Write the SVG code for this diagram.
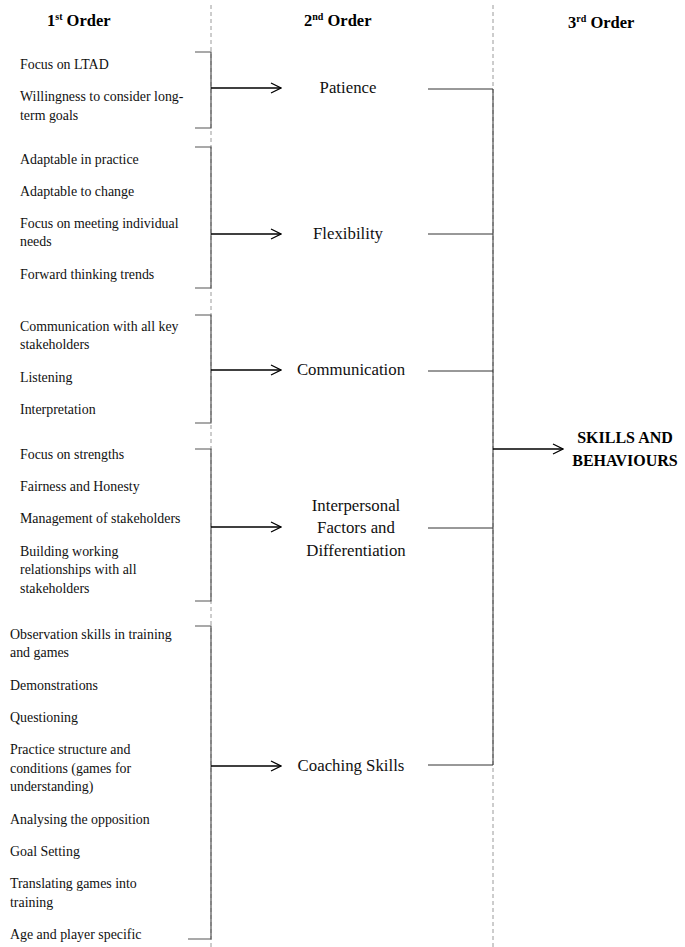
<svg xmlns="http://www.w3.org/2000/svg" width="685" height="947" viewBox="0 0 685 947">
<defs>
<style>
.h{font-family:"Liberation Serif","Times New Roman",serif;font-weight:bold;font-size:16.5px;fill:#000}
.sup{font-size:10px}
.t1{font-family:"Liberation Serif","Times New Roman",serif;font-size:13.9px;fill:#111}
.t2{font-family:"Liberation Serif","Times New Roman",serif;font-size:16.8px;fill:#111;text-anchor:middle}
.t3{font-family:"Liberation Serif","Times New Roman",serif;font-weight:bold;font-size:16px;fill:#000;text-anchor:middle}
.dash{stroke:#9a9a9a;stroke-width:1;stroke-dasharray:4,3;fill:none}
.br{stroke:#555;stroke-width:1.2;fill:none}
.ln{stroke:#333;stroke-width:1;fill:none}
.ar{stroke:#000;stroke-width:1.3;fill:none;marker-end:url(#a)}
</style>
<marker id="a" markerWidth="12" markerHeight="12" refX="11" refY="6" orient="auto" markerUnits="userSpaceOnUse">
<path d="M1,1 L11,6 L1,11" fill="none" stroke="#000" stroke-width="1.3"/>
</marker>
</defs>
<rect width="685" height="947" fill="#fff"/>
<g id="columns">
<line class="dash" x1="211" y1="5" x2="211" y2="947"/>
<line class="dash" x1="493" y1="5" x2="493" y2="947"/>
</g>
<g id="headers">
<text class="h" x="47" y="26">1<tspan class="sup" dy="-6">st</tspan><tspan dy="6"> Order</tspan></text>
<text class="h" x="304" y="26">2<tspan class="sup" dy="-6">nd</tspan><tspan dy="6"> Order</tspan></text>
<text class="h" x="568" y="28">3<tspan class="sup" dy="-6">rd</tspan><tspan dy="6"> Order</tspan></text>
</g>
<g id="connectors">
<path class="br" d="M195,52 H211 V128 H195"/>
<path class="br" d="M195,147 H211 V288 H195"/>
<path class="br" d="M195,315 H211 V423 H195"/>
<path class="br" d="M195,449 H211 V601 H195"/>
<path class="br" d="M195,626 H211 V939 H188"/>
<line class="ar" x1="211" y1="88" x2="281" y2="88"/>
<line class="ar" x1="211" y1="234" x2="281" y2="234"/>
<line class="ar" x1="211" y1="370" x2="281" y2="370"/>
<line class="ar" x1="211" y1="527" x2="281" y2="527"/>
<line class="ar" x1="211" y1="766" x2="281" y2="766"/>
<line class="ln" x1="428" y1="89" x2="493" y2="89"/>
<line class="ln" x1="428" y1="234" x2="493" y2="234"/>
<line class="ln" x1="428" y1="371" x2="493" y2="371"/>
<line class="ln" x1="428" y1="528" x2="493" y2="528"/>
<line class="ln" x1="428" y1="765" x2="493" y2="765"/>
<line class="ln" x1="493" y1="89" x2="493" y2="765"/>
<line class="ar" x1="493" y1="449" x2="563" y2="449"/>
</g>
<g id="g1">
<text class="t1" x="20" y="69">Focus on LTAD</text>
<text class="t1" x="20" y="101">Willingness to consider long-</text>
<text class="t1" x="20" y="120">term goals</text>
</g>
<g id="g2">
<text class="t1" x="20" y="164">Adaptable in practice</text>
<text class="t1" x="20" y="196">Adaptable to change</text>
<text class="t1" x="20" y="228">Focus on meeting individual</text>
<text class="t1" x="20" y="246">needs</text>
<text class="t1" x="20" y="279">Forward thinking trends</text>
</g>
<g id="g3">
<text class="t1" x="20" y="331">Communication with all key</text>
<text class="t1" x="20" y="349">stakeholders</text>
<text class="t1" x="20" y="382">Listening</text>
<text class="t1" x="20" y="414">Interpretation</text>
</g>
<g id="g4">
<text class="t1" x="20" y="459">Focus on strengths</text>
<text class="t1" x="20" y="491">Fairness and Honesty</text>
<text class="t1" x="20" y="523">Management of stakeholders</text>
<text class="t1" x="20" y="556">Building working</text>
<text class="t1" x="20" y="574">relationships with all</text>
<text class="t1" x="20" y="593">stakeholders</text>
</g>
<g id="g5">
<text class="t1" x="10" y="639">Observation skills in training</text>
<text class="t1" x="10" y="657">and games</text>
<text class="t1" x="10" y="690">Demonstrations</text>
<text class="t1" x="10" y="722">Questioning</text>
<text class="t1" x="10" y="754">Practice structure and</text>
<text class="t1" x="10" y="773">conditions (games for</text>
<text class="t1" x="10" y="791">understanding)</text>
<text class="t1" x="10" y="824">Analysing the opposition</text>
<text class="t1" x="10" y="856">Goal Setting</text>
<text class="t1" x="10" y="888">Translating games into</text>
<text class="t1" x="10" y="907">training</text>
<text class="t1" x="10" y="939">Age and player specific</text>
</g>
<g id="patience"><text class="t2" x="348" y="93">Patience</text></g>
<g id="flexibility"><text class="t2" x="348" y="239">Flexibility</text></g>
<g id="communication"><text class="t2" x="351" y="375">Communication</text></g>
<g id="interpersonal">
<text class="t2" x="356" y="511">Interpersonal</text>
<text class="t2" x="356" y="533">Factors and</text>
<text class="t2" x="356" y="556">Differentiation</text>
</g>
<g id="coaching"><text class="t2" x="351" y="771">Coaching Skills</text></g>
<g id="skills">
<text class="t3" x="625" y="443">SKILLS AND</text>
<text class="t3" x="625" y="466">BEHAVIOURS</text>
</g>
</svg>
